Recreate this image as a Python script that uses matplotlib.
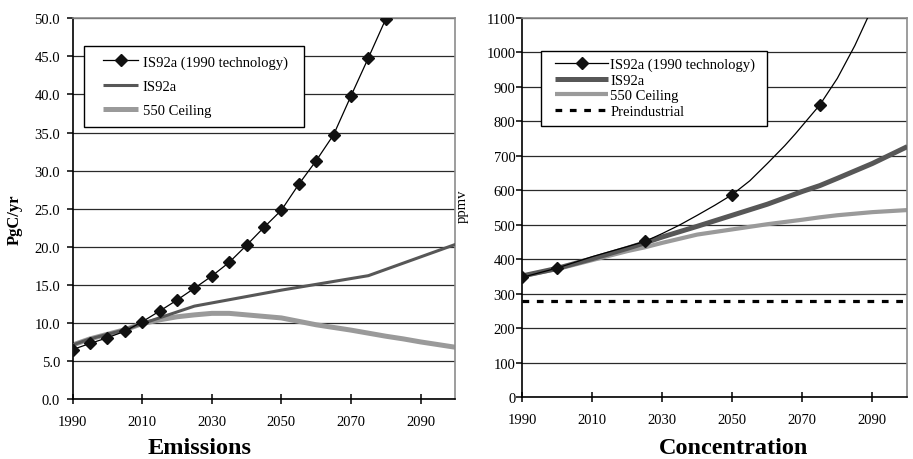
import matplotlib
matplotlib.use('Agg')
import matplotlib.pyplot as plt
from matplotlib.legend_handler import HandlerLine2D
from matplotlib.patches import Rectangle
import matplotlib.ticker as mticker

plt.rcParams['font.family'] = ['Liberation Serif', 'DejaVu Serif']

# ---------------- Data ----------------
# Emissions (PgC/yr)
em_tech_years = [1990, 1995, 2000, 2005, 2010, 2015, 2020, 2025, 2030, 2035,
                 2040, 2045, 2050, 2055, 2060, 2065, 2070, 2075, 2080, 2085]
em_tech = [6.5, 7.3, 8.05, 8.9, 10.15, 11.55, 13.0, 14.55, 16.15, 17.95,
           20.2, 22.55, 24.8, 28.2, 31.3, 34.7, 39.8, 44.8, 49.9, 55.5]

em_is92a_years = [1990, 1995, 2000, 2005, 2010, 2025, 2050, 2075, 2100]
em_is92a = [7.1, 7.9, 8.5, 9.1, 9.9, 12.2, 14.3, 16.2, 20.3]

em_550_years = [1990, 1995, 2000, 2005, 2010, 2015, 2020, 2025, 2030, 2035,
                2040, 2045, 2050, 2055, 2060, 2065, 2070, 2075, 2080, 2085,
                2090, 2095, 2100]
em_550 = [7.1, 7.9, 8.5, 9.1, 9.9, 10.4, 10.8, 11.05, 11.25, 11.25,
          11.05, 10.85, 10.65, 10.2, 9.75, 9.4, 9.05, 8.65, 8.25, 7.9,
          7.5, 7.15, 6.8]

# Concentration (ppmv)
co_tech_years = [1990, 2000, 2010, 2020, 2025, 2030, 2035, 2040, 2045, 2050,
                 2055, 2060, 2065, 2068, 2075, 2080, 2085, 2090, 2100]
co_tech = [348, 375, 408, 437, 452, 475, 500, 528, 557, 588,
           628, 678, 730, 764, 848, 925, 1020, 1130, 1400]
co_tech_marker_years = [1990, 2000, 2025, 2050, 2075]

co_is92a_years = [1990, 2000, 2010, 2020, 2025, 2030, 2040, 2050, 2060, 2070,
                  2075, 2080, 2090, 2100]
co_is92a = [352, 374, 402, 432, 448, 465, 496, 528, 560, 597,
            614, 635, 678, 727]

co_550_years = [1990, 2000, 2010, 2020, 2025, 2030, 2040, 2050, 2060, 2070,
                2075, 2080, 2090, 2100]
co_550 = [352, 372, 398, 424, 435, 448, 472, 487, 502, 515,
          522, 528, 537, 543]

preindustrial = 278

x_ticks = [1990, 2010, 2030, 2050, 2070, 2090]
em_yticks = [0, 5, 10, 15, 20, 25, 30, 35, 40, 45, 50]
co_yticks = list(range(0, 1101, 100))

labels = ['IS92a (1990 technology)', 'IS92a', '550 Ceiling', 'Preindustrial']

# ---------------- Styling ----------------
DARK = '#575757'
LIGHT = '#9a9a9a'
FS = 10.5

fig = plt.figure(figsize=(9.13, 4.60), dpi=100)
axL = fig.add_axes([0.0796, 0.1304, 0.4191, 0.8276])
axR = fig.add_axes([0.5721, 0.1341, 0.4217, 0.8246])


def style_axes(ax, yticks, fmt, ypad):
    ax.set_xlim(1990, 2100)
    ax.set_xticks(x_ticks)
    ax.set_ylim(yticks[0], yticks[-1])
    ax.set_yticks(yticks)
    ax.yaxis.set_major_formatter(mticker.FormatStrFormatter(fmt))
    ax.yaxis.grid(True, color='#2a2a2a', lw=0.9)
    ax.set_axisbelow(True)
    for s in ('top', 'right'):
        ax.spines[s].set_color('#8c8c8c')
        ax.spines[s].set_linewidth(1.2)
    for s in ('left', 'bottom'):
        ax.spines[s].set_color('black')
        ax.spines[s].set_linewidth(1.2)
    ax.tick_params(axis='x', direction='inout', length=7, width=1.1,
                   labelsize=FS, pad=8)
    ax.tick_params(axis='y', direction='out', length=4, width=1.1,
                   labelsize=FS, pad=ypad)


style_axes(axL, em_yticks, '%.1f', 5)
style_axes(axR, co_yticks, '%d', 1)

# Left: emissions
l1, = axL.plot(em_tech_years, em_tech, color='black', lw=0.9, marker='D',
               ms=6.3, markerfacecolor='#111111', markeredgecolor='#111111',
               zorder=4)
l2, = axL.plot(em_is92a_years, em_is92a, color=DARK, lw=2.2, zorder=3,
               solid_capstyle='butt')
l3, = axL.plot(em_550_years, em_550, color=LIGHT, lw=3.6, zorder=2,
               solid_capstyle='butt')

# Right: concentration
r1, = axR.plot(co_tech_years, co_tech, color='black', lw=0.9, zorder=4)
axR.plot(co_tech_marker_years,
         [co_tech[co_tech_years.index(y)] for y in co_tech_marker_years],
         ls='none', marker='D', ms=6.3, color='#111111', zorder=5)
r1_leg, = axR.plot([], [], color='black', lw=0.9, marker='D', ms=6.3,
                   markerfacecolor='#111111', markeredgecolor='#111111')
r2, = axR.plot(co_is92a_years, co_is92a, color=DARK, lw=3.6, zorder=3,
               solid_capstyle='butt')
r3, = axR.plot(co_550_years, co_550, color=LIGHT, lw=3.0, zorder=2,
               solid_capstyle='butt')
r4 = axR.axhline(preindustrial, color='black', lw=2.3,
                 linestyle=(0, (2.1, 2.4)), zorder=3)

# Legend frames
axL.add_patch(Rectangle((0.0303, 0.7137), 0.5743, 0.2128,
                        transform=axL.transAxes, facecolor='white',
                        edgecolor='black', lw=1.0, zorder=6))
axR.add_patch(Rectangle((0.0478, 0.7145), 0.587, 0.1977,
                        transform=axR.transAxes, facecolor='white',
                        edgecolor='black', lw=1.0, zorder=6))

legL = axL.legend([l1, l2, l3], labels[:3], loc='upper left',
                  bbox_to_anchor=(0.080, 0.903), borderaxespad=0,
                  borderpad=0, frameon=False, fontsize=FS,
                  handlelength=2.41, handletextpad=0.3, labelspacing=0.74,
                  handler_map={l1: HandlerLine2D(numpoints=1)})
legL.set_zorder(7)

legR = axR.legend([r1_leg, r2, r3, r4], labels, loc='upper left',
                  bbox_to_anchor=(0.085, 0.896), borderaxespad=0,
                  borderpad=0, frameon=False, fontsize=FS,
                  handlelength=3.66, handletextpad=0.12, labelspacing=0.17,
                  handler_map={r1_leg: HandlerLine2D(numpoints=1)})
legR.set_zorder(7)

# Axis labels and titles
fig.text(0.0164, 0.522, 'PgC/yr', rotation=90, ha='center', va='center',
         fontsize=12, fontweight='bold')
fig.text(0.506, 0.552, 'ppmv', rotation=90, ha='center', va='center',
         fontsize=FS)
fig.text(199.5 / 913, 1 - 454 / 460, 'Emissions', ha='center',
         va='baseline', fontsize=17.5, fontweight='bold')
fig.text(734 / 913, 1 - 454 / 460, 'Concentration', ha='center',
         va='baseline', fontsize=17.5, fontweight='bold')

fig.savefig('out.png', dpi=100)
